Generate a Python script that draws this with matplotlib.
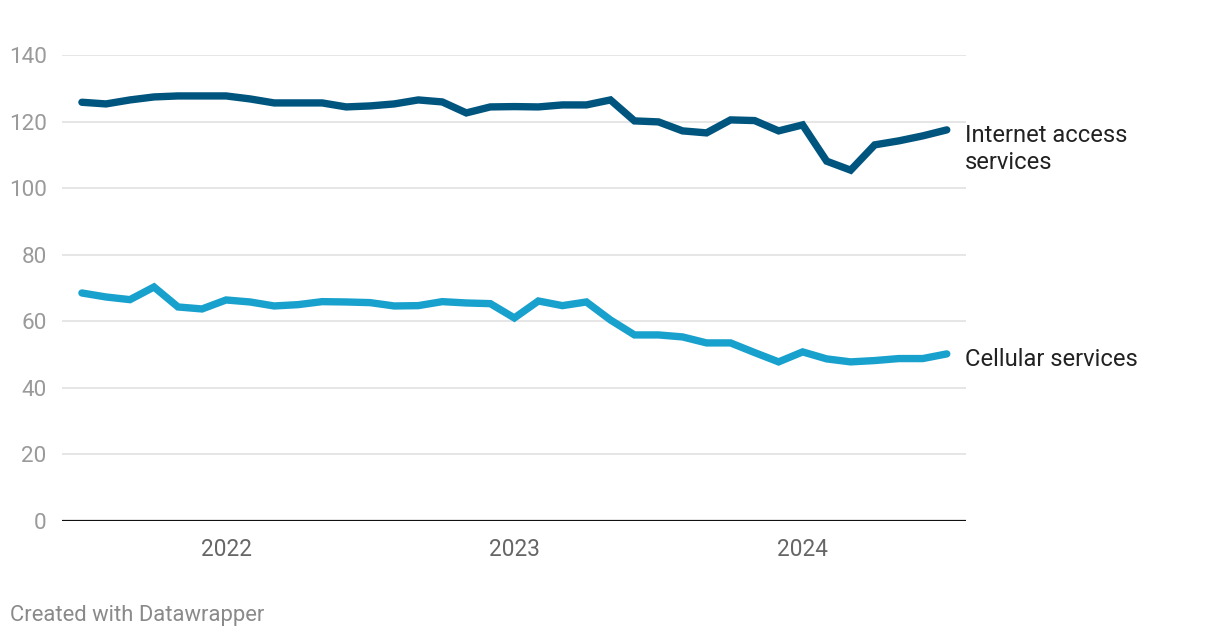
import matplotlib.pyplot as plt

plt.rcParams['font.family'] = ['Roboto', 'DejaVu Sans']

# Monthly values, July 2021 - July 2024
months = list(range(37))
internet = [125.8, 125.3, 126.5, 127.4, 127.7, 127.7, 127.7, 126.8, 125.6, 125.6,
            125.6, 124.4, 124.7, 125.3, 126.5, 125.9, 122.6, 124.4, 124.5, 124.4,
            125.0, 125.0, 126.5, 120.2, 119.9, 117.2, 116.6, 120.5, 120.3, 117.2,
            119.0, 108.1, 105.4, 113.0, 114.2, 115.7, 117.5]
cellular = [68.5, 67.3, 66.5, 70.3, 64.3, 63.7, 66.4, 65.8, 64.6, 65.0,
            65.9, 65.8, 65.6, 64.6, 64.7, 65.9, 65.5, 65.3, 61.0, 66.1,
            64.7, 65.8, 60.4, 55.9, 55.9, 55.3, 53.5, 53.5, 50.6, 47.8,
            50.8, 48.7, 47.8, 48.2, 48.8, 48.8, 50.2]
year_pos = [6, 18, 30]
year_labels = ['2022', '2023', '2024']
yticks = [0, 20, 40, 60, 80, 100, 120, 140]

fig = plt.figure(figsize=(12.2, 6.38), dpi=100)
ax = fig.add_axes([0.0508, 0.1834, 0.7410, 0.7304])

for y in yticks[1:]:
    ax.axhline(y, color='#e1e1e1', lw=1.2, zorder=1)
ax.axhline(0, color='#111111', lw=1.6, zorder=3)

ax.plot(months, internet, color='#00557f', lw=5.3, solid_capstyle='round', solid_joinstyle='miter', zorder=4)
ax.plot(months, cellular, color='#18a1cd', lw=5.3, solid_capstyle='round', solid_joinstyle='miter', zorder=4)

ax.set_xlim(-0.83, 36.8)
ax.set_ylim(0, 140)
ax.set_yticks(yticks)
ax.set_yticklabels([str(v) for v in yticks], color='#9a9a9a', fontsize=16.2)
ax.set_xticks(year_pos)
ax.set_xticklabels(year_labels, color='#666666', fontsize=16.3)
ax.tick_params(axis='y', length=0, pad=11)
ax.tick_params(axis='x', length=0, pad=12)
for s in ax.spines.values():
    s.set_visible(False)

ax.text(36.75, 111.8, 'Internet access\nservices', fontsize=17.1, color='#222222',
        va='center', ha='left', linespacing=1.25)
ax.text(36.75, 48.4, 'Cellular services', fontsize=17.1, color='#222222',
        va='center', ha='left')

fig.text(10 / 1220, 1 - 615 / 638, 'Created with Datawrapper', fontsize=15.8, color='#8a8a8a',
         va='center', ha='left')

fig.savefig('out.png', dpi=100)
